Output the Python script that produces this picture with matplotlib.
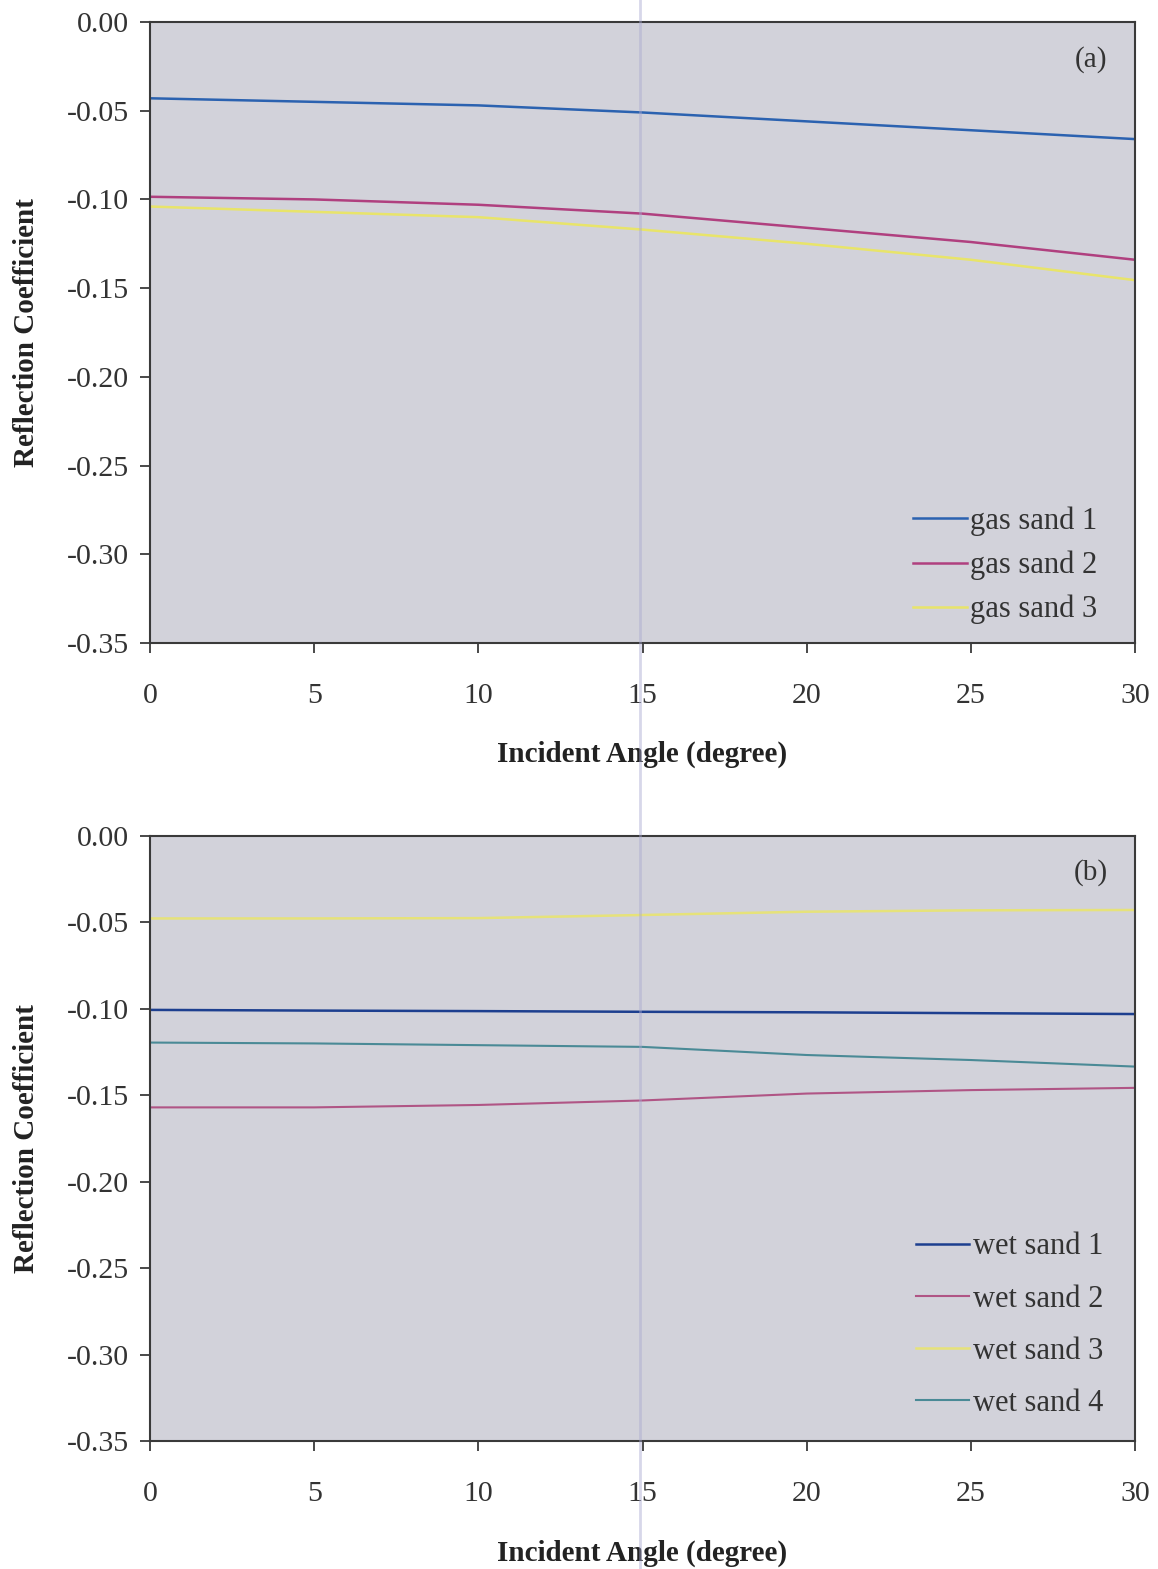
import matplotlib
matplotlib.use('Agg')
import matplotlib.pyplot as plt
from matplotlib.lines import Line2D

# incident angle (degree)
angles = [0, 5, 10, 15, 20, 25, 30]

# panel (a) gas sands
gas1 = [-0.043, -0.045, -0.047, -0.051, -0.056, -0.061, -0.066]
gas2 = [-0.0985, -0.100, -0.103, -0.108, -0.116, -0.124, -0.134]
gas3 = [-0.104, -0.107, -0.110, -0.117, -0.125, -0.134, -0.1455]

# panel (b) wet sands
wet1 = [-0.1006, -0.101, -0.1013, -0.1017, -0.102, -0.1025, -0.103]
wet2 = [-0.157, -0.157, -0.1556, -0.153, -0.149, -0.147, -0.1457]
wet3 = [-0.0477, -0.0477, -0.0475, -0.0457, -0.0438, -0.043, -0.0428]
wet4 = [-0.1195, -0.120, -0.121, -0.122, -0.1267, -0.1296, -0.1334]

xticks = [0, 5, 10, 15, 20, 25, 30]
yticks = [0.00, -0.05, -0.10, -0.15, -0.20, -0.25, -0.30, -0.35]
ytick_labels = ['0.00', '-0.05', '-0.10', '-0.15', '-0.20', '-0.25', '-0.30', '-0.35']

plt.rcParams['font.family'] = ['Liberation Serif', 'DejaVu Serif']
plt.rcParams['axes.unicode_minus'] = False

W, H = 1158, 1569
fig = plt.figure(figsize=(W / 100, H / 100), dpi=100)
fig.patch.set_facecolor('white')

# axes boxes in pixels: left, top, right, bottom
boxes = [(150, 22, 1135, 643), (150, 836, 1135, 1441)]


def make_axes(box):
    l, t, r, b = box
    return fig.add_axes([l / W, 1 - b / H, (r - l) / W, (b - t) / H])


def style_axes(ax, tag, xlab_y):
    ax.set_facecolor('#d2d2da')
    ax.set_xlim(0, 30)
    ax.set_ylim(-0.35, 0.0)
    ax.set_xticks(xticks)
    ax.set_xticklabels([str(v) for v in xticks])
    ax.set_yticks(yticks)
    ax.set_yticklabels(ytick_labels)
    for s in ax.spines.values():
        s.set_color('#3a3a3a')
        s.set_linewidth(1.5)
    ax.tick_params(axis='x', direction='out', length=7, width=1.3,
                   color='#3a3a3a', labelsize=21.5, pad=22, labelcolor='#333333')
    ax.tick_params(axis='y', direction='out', length=7, width=1.3,
                   color='#3a3a3a', labelsize=21.5, pad=8, labelcolor='#333333')
    ax.set_ylabel('Reflection Coefficient', fontsize=21, fontweight='bold', color='#222222')
    ax.yaxis.set_label_coords(-0.112, 0.5)
    ax.set_xlabel('Incident Angle (degree)', fontsize=21, fontweight='bold', color='#222222')
    ax.xaxis.set_label_coords(0.5, xlab_y)
    ax.text(0.955, 0.94, tag, transform=ax.transAxes, fontsize=21,
            ha='center', va='center', color='#333333')


# panel (a)
ax1 = make_axes(boxes[0])
ax1.plot(angles, gas1, color='#2b62b0', lw=1.8, label='gas sand 1')
ax1.plot(angles, gas2, color='#b0407f', lw=1.8, label='gas sand 2')
ax1.plot(angles, gas3, color='#e8e46a', lw=1.8, label='gas sand 3')
style_axes(ax1, '(a)', -0.158)
ax1.legend(loc='lower right', bbox_to_anchor=(0.962, 0.03), frameon=False,
           fontsize=22, handlelength=1.75, handletextpad=0.12,
           labelspacing=0.48, borderpad=0, borderaxespad=0, labelcolor='#333333')

# panel (b)
ax2 = make_axes(boxes[1])
ax2.plot(angles, wet1, color='#1d3f8f', lw=1.8, label='wet sand 1')
ax2.plot(angles, wet2, color='#b05585', lw=1.5, label='wet sand 2')
ax2.plot(angles, wet3, color='#e6e27a', lw=1.8, label='wet sand 3')
ax2.plot(angles, wet4, color='#4a8a96', lw=1.5, label='wet sand 4')
style_axes(ax2, '(b)', -0.163)
ax2.legend(loc='lower right', bbox_to_anchor=(0.968, 0.038), frameon=False,
           fontsize=22, handlelength=1.75, handletextpad=0.12,
           labelspacing=0.76, borderpad=0, borderaxespad=0, labelcolor='#333333')

# faint scanner streak through the page
fig.add_artist(Line2D([640 / W, 640 / W], [0, 1], transform=fig.transFigure,
                      color='#a8a8d0', lw=2, alpha=0.45))

fig.savefig('out.png', dpi=100)
